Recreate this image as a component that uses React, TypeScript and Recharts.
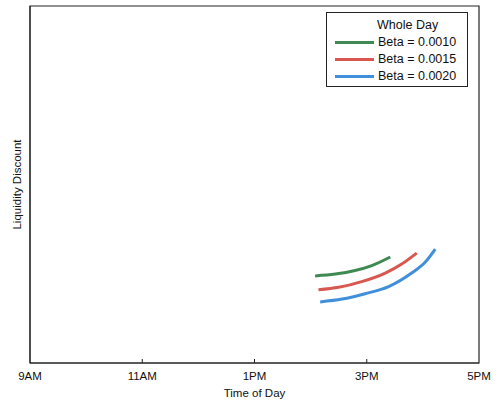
import { LineChart, Line, XAxis, YAxis, ReferenceArea } from 'recharts';

const FONT = '"Liberation Sans", Arial, sans-serif';

// hours of day (9 = 9AM, 17 = 5PM)
const hourTicks = [9, 11, 13, 15, 17];
const hourLabels = ['9AM', '11AM', '1PM', '3PM', '5PM'];

const greenTimes = [14.08, 14.44, 14.79, 15.09, 15.42];
const greenValues = [0.244, 0.249, 0.259, 0.273, 0.297];

const redTimes = [14.14, 14.5, 14.91, 15.33, 15.63, 15.89];
const redValues = [0.205, 0.212, 0.228, 0.252, 0.278, 0.308];

const blueTimes = [14.17, 14.56, 14.97, 15.39, 15.8, 16.04, 16.22];
const blueValues = [0.171, 0.179, 0.194, 0.214, 0.252, 0.282, 0.319];

const seriesNames = ['Beta = 0.0010', 'Beta = 0.0015', 'Beta = 0.0020'];
const seriesColors = ['#3f8a52', '#d8574e', '#3f8fdb'];

const toPoints = (times: number[], values: number[]) =>
    times.map((t, i) => ({ t, v: values[i] }));

const series = [
    toPoints(greenTimes, greenValues),
    toPoints(redTimes, redValues),
    toPoints(blueTimes, blueValues),
];

const HourTick = (props: any) => {
    const { x, y, payload } = props;
    const idx = hourTicks.indexOf(payload.value);
    const inner = idx > 0 && idx < hourTicks.length - 1;
    return (
        <g>
            {inner && <line x1={x} x2={x} y1={y - 9} y2={y - 13} stroke="#222" strokeWidth={1} />}
            <text x={x} y={y} dy="0.71em" textAnchor="middle" fontSize={11.5} fontFamily={FONT} fill="#111">
                {hourLabels[idx]}
            </text>
        </g>
    );
};

const LegendBox = () => (
    <div
        style={{
            position: 'absolute',
            left: 326,
            top: 12,
            border: '1.5px solid #222',
            background: '#fff',
            width: 142,
            height: 75,
            boxSizing: 'border-box',
            fontFamily: FONT,
            fontSize: 12.5,
            color: '#111',
            paddingTop: 4,
        }}
    >
        <div style={{ paddingLeft: 50, height: 17, lineHeight: '17px' }}>Whole Day</div>
        {seriesNames.map((name, i) => (
            <div key={name} style={{ display: 'flex', alignItems: 'center', height: 17, lineHeight: '17px' }}>
                <span style={{ display: 'inline-block', width: 39, height: 3, background: seriesColors[i], marginLeft: 8, marginRight: 4 }} />
                <span>{name}</span>
            </div>
        ))}
    </div>
);

export default function App() {
    return (
        <div style={{ position: 'absolute', left: 0, top: 0, width: 500, height: 406, background: '#fff' }}>
            <LineChart width={500} height={406} margin={{ top: 6, right: 21, bottom: 0, left: 0 }}>
                <XAxis
                    dataKey="t"
                    type="number"
                    domain={[9, 17]}
                    ticks={hourTicks}
                    tick={<HourTick />}
                    tickLine={false}
                    tickSize={0}
                    tickMargin={9}
                    height={43}
                    stroke="#222"
                    label={{ value: 'Time of Day', position: 'insideBottom', offset: 9, fontSize: 11.5, fontFamily: FONT, fill: '#111' }}
                    allowDuplicatedCategory={false}
                />
                <YAxis
                    type="number"
                    domain={[0, 1]}
                    tick={false}
                    tickLine={false}
                    width={30}
                    stroke="#222"
                    label={{ value: 'Liquidity Discount', angle: -90, position: 'center', dx: 2, fontSize: 11.5, fontFamily: FONT, fill: '#111' }}
                />
                <ReferenceArea x1={9} x2={17} y1={0} y2={1} fill="none" stroke="#222" strokeWidth={1.2} />
                {series.map((data, i) => (
                    <Line
                        key={seriesNames[i]}
                        data={data}
                        dataKey="v"
                        name={seriesNames[i]}
                        type="monotone"
                        stroke={seriesColors[i]}
                        strokeWidth={3}
                        dot={false}
                        isAnimationActive={false}
                    />
                ))}
            </LineChart>
            <LegendBox />
        </div>
    );
}
